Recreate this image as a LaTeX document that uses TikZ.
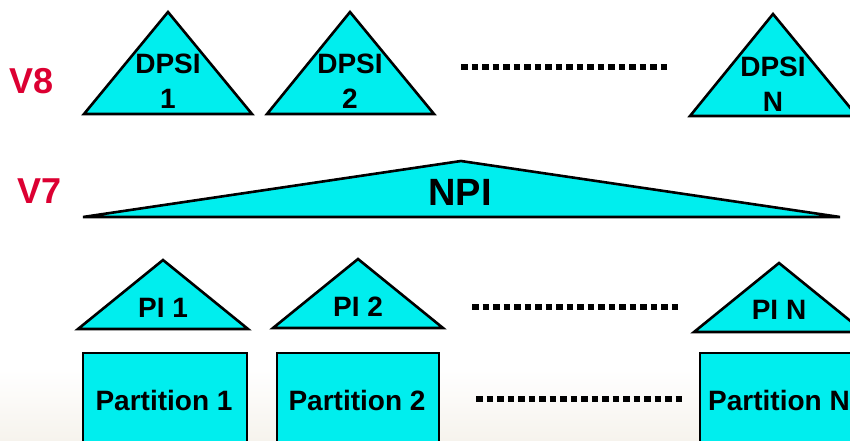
\documentclass[tikz,border=0pt]{standalone}
\usepackage{fontspec}
\setmainfont{Liberation Sans}
\definecolor{tri}{RGB}{0,238,238}
\definecolor{vred}{RGB}{220,0,50}
\definecolor{floor}{RGB}{246,243,237}
\begin{document}
\begin{tikzpicture}[x=1pt,y=-1pt,
  solid shape/.style={fill=tri,draw=black,line width=2.6pt,line join=miter},
  lbl/.style={anchor=base,inner sep=0pt,font=\bfseries\fontsize{28}{30}\selectfont},
  big/.style={anchor=base,inner sep=0pt,font=\bfseries\fontsize{38}{40}\selectfont},
  ver/.style={anchor=base,inner sep=0pt,text=vred,font=\bfseries\fontsize{36}{38}\selectfont},
  dots/.style={line width=6.5pt,dash pattern=on 6.5pt off 4pt}]
\useasboundingbox (0,0) rectangle (850,440);
\clip (0,0) rectangle (850,440);
% page background with a warm tint along the bottom
\fill[white] (0,0) rectangle (850,440);
\shade[top color=white,bottom color=floor] (0,370) rectangle (850,440);

% version labels
\node[ver] (v8) at (32,93) {V8};
\node[ver] (v7) at (40,203) {V7};

% V8: one DPSI per partition
\draw[solid shape] (84,114) -- (168,12) -- (252,114) -- cycle;
\draw[solid shape] (267,114) -- (350,12) -- (434,114) -- cycle;
\draw[solid shape] (690,116) -- (773,14) -- (857,116) -- cycle;
\node[lbl] (d1a) at (168,73) {DPSI};
\node[lbl] (d1b) at (168,108) {1};
\node[lbl] (d2a) at (350,73) {DPSI};
\node[lbl] (d2b) at (350,108) {2};
\node[lbl] (dna) at (773,76) {DPSI};
\node[lbl] (dnb) at (773,111) {N};
\coordinate (r1a) at (461,67);
\coordinate (r1b) at (670,67);
\draw[dots] (r1a) -- (r1b);

% V7: one NPI across all partitions
\draw[solid shape] (83,217) -- (461,161) -- (840,217) -- cycle;
\node[big] (npi) at (460,205) {NPI};

% partition indexes
\draw[solid shape] (78,329) -- (163,260) -- (248,329) -- cycle;
\draw[solid shape] (273,328) -- (358,259) -- (443,328) -- cycle;
\draw[solid shape] (694,332) -- (779,263) -- (864,332) -- cycle;
\node[lbl] (p1) at (163,317) {PI 1};
\node[lbl] (p2) at (358,316) {PI 2};
\node[lbl] (pn) at (779,319) {PI N};
\coordinate (r2a) at (472,307);
\coordinate (r2b) at (680,307);
\draw[dots] (r2a) -- (r2b);

% partitions
\draw[solid shape] (83,353) rectangle (247,452);
\draw[solid shape] (277,353) rectangle (439,452);
\draw[solid shape] (700,353) rectangle (870,452);
\node[lbl] (t1) at (164,410) {Partition 1};
\node[lbl] (t2) at (357,410) {Partition 2};
\node[lbl,anchor=base west] (tn) at (708,410) {Partition N};
\coordinate (r3a) at (476,399);
\coordinate (r3b) at (685,399);
\draw[dots] (r3a) -- (r3b);
\end{tikzpicture}
\end{document}
